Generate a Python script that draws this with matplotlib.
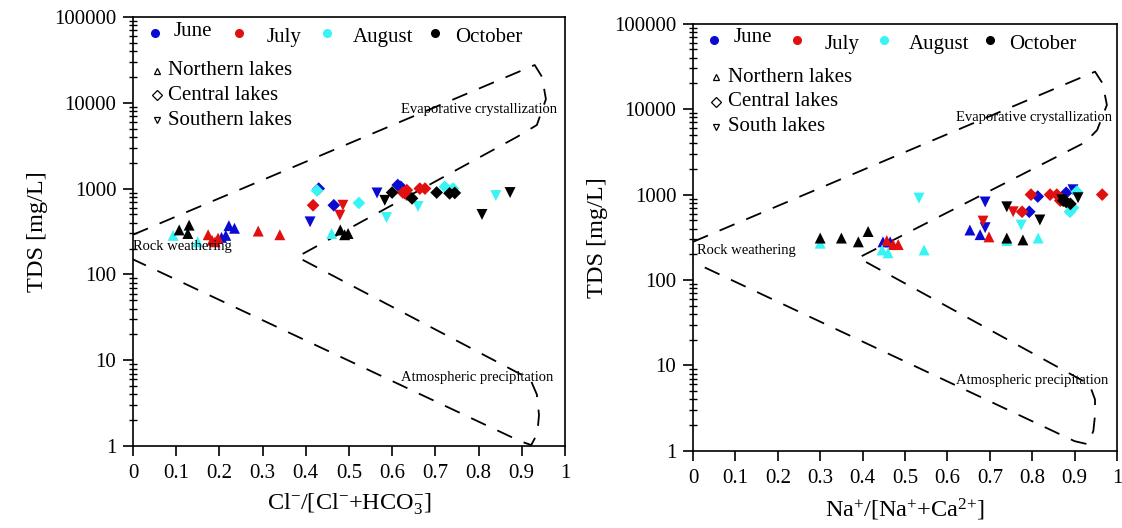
import matplotlib
matplotlib.use("Agg")
import matplotlib.pyplot as plt
from matplotlib.ticker import LogLocator, FixedLocator, NullFormatter
import numpy as np

plt.rcParams['font.family'] = ['Liberation Serif', 'DejaVu Serif']
plt.rcParams['mathtext.fontset'] = 'custom'
plt.rcParams['mathtext.rm'] = 'Liberation Serif'
plt.rcParams['mathtext.it'] = 'Liberation Serif:italic'

months = ["June", "July", "August", "October"]
month_colors = ["#0a0ad2", "#e01010", "#38f4f4", "#000000"]
regions = ["Northern lakes", "Central lakes", "Southern lakes"]
regions_right = ["Northern lakes", "Central lakes", "South lakes"]
region_markers = ["^", "D", "v"]

# ---------- Left panel: Cl-/(Cl- + HCO3-) vs TDS ----------
cl_june_n_x = [0.205, 0.215, 0.222, 0.235]
cl_june_n_y = [270, 285, 370, 345]
cl_june_c_x = [0.43, 0.465, 0.613, 0.62]
cl_june_c_y = [1000, 640, 1100, 1050]
cl_june_s_x = [0.41, 0.565]
cl_june_s_y = [410, 890]

cl_july_n_x = [0.174, 0.183, 0.197, 0.19, 0.29, 0.34]
cl_july_n_y = [290, 250, 265, 240, 320, 290]
cl_july_c_x = [0.417, 0.634, 0.634, 0.664, 0.676, 0.625]
cl_july_c_y = [640, 960, 850, 1000, 1000, 900]
cl_july_s_x = [0.486, 0.479]
cl_july_s_y = [640, 490]

cl_aug_n_x = [0.093, 0.15, 0.46]
cl_aug_n_y = [285, 240, 300]
cl_aug_c_x = [0.426, 0.523, 0.722, 0.741]
cl_aug_c_y = [950, 680, 1050, 1000]
cl_aug_s_x = [0.587, 0.66, 0.84]
cl_aug_s_y = [460, 620, 830]

cl_oct_n_x = [0.107, 0.13, 0.127, 0.48, 0.498, 0.49]
cl_oct_n_y = [330, 375, 300, 330, 300, 290]
cl_oct_c_x = [0.60, 0.646, 0.703, 0.733, 0.745]
cl_oct_c_y = [900, 770, 900, 880, 890]
cl_oct_s_x = [0.583, 0.808, 0.873]
cl_oct_s_y = [730, 500, 900]

# ---------- Right panel: Na+/(Na+ + Ca2+) vs TDS ----------
na_june_n_x = [0.448, 0.465, 0.653, 0.677]
na_june_n_y = [280, 280, 385, 340]
na_june_c_x = [0.793, 0.813, 0.88]
na_june_c_y = [630, 950, 1050]
na_june_s_x = [0.689, 0.689, 0.896]
na_june_s_y = [410, 820, 1140]

na_july_n_x = [0.457, 0.472, 0.484, 0.698]
na_july_n_y = [290, 260, 260, 320]
na_july_c_x = [0.776, 0.797, 0.842, 0.858, 0.866, 0.965]
na_july_c_y = [630, 1000, 1000, 1000, 850, 1000]
na_july_s_x = [0.684, 0.755, 0.86]
na_july_s_y = [490, 630, 900]

na_aug_n_x = [0.30, 0.446, 0.46, 0.545, 0.74, 0.814]
na_aug_n_y = [270, 225, 208, 225, 290, 310]
na_aug_c_x = [0.905, 0.889, 0.896]
na_aug_c_y = [1080, 630, 700]
na_aug_s_x = [0.533, 0.774]
na_aug_s_y = [910, 440]

na_oct_n_x = [0.30, 0.35, 0.39, 0.413, 0.74, 0.778]
na_oct_n_y = [310, 310, 280, 370, 310, 295]
na_oct_c_x = [0.873, 0.88, 0.89]
na_oct_c_y = [850, 820, 780]
na_oct_s_x = [0.74, 0.818, 0.908, 0.87]
na_oct_s_y = [720, 505, 920, 870]

gibbs_left_x = [0.0, 0.93, 0.947, 0.956, 0.935, 0.889, 0.38, 0.92, 0.935, 0.94, 0.936, 0.922, 0.897, 0.0]
gibbs_left_y = [290, 27500, 20000, 11000, 5500, 4000, 160, 6.0, 4.0, 2.3, 1.4, 1.03, 1.14, 150]
gibbs_right_x = [0.0, 0.948, 0.966, 0.976, 0.953, 0.925, 0.39, 0.935, 0.948, 0.948, 0.944, 0.93, 0.90, 0.0]
gibbs_right_y = [280, 27500, 20000, 11200, 5700, 4100, 182, 6.0, 4.0, 2.6, 1.7, 1.2, 1.3, 163]

left_sets = [
    [(cl_june_n_x, cl_june_n_y), (cl_june_c_x, cl_june_c_y), (cl_june_s_x, cl_june_s_y)],
    [(cl_july_n_x, cl_july_n_y), (cl_july_c_x, cl_july_c_y), (cl_july_s_x, cl_july_s_y)],
    [(cl_aug_n_x, cl_aug_n_y), (cl_aug_c_x, cl_aug_c_y), (cl_aug_s_x, cl_aug_s_y)],
    [(cl_oct_n_x, cl_oct_n_y), (cl_oct_c_x, cl_oct_c_y), (cl_oct_s_x, cl_oct_s_y)],
]
right_sets = [
    [(na_june_n_x, na_june_n_y), (na_june_c_x, na_june_c_y), (na_june_s_x, na_june_s_y)],
    [(na_july_n_x, na_july_n_y), (na_july_c_x, na_july_c_y), (na_july_s_x, na_july_s_y)],
    [(na_aug_n_x, na_aug_n_y), (na_aug_c_x, na_aug_c_y), (na_aug_s_x, na_aug_s_y)],
    [(na_oct_n_x, na_oct_n_y), (na_oct_c_x, na_oct_c_y), (na_oct_s_x, na_oct_s_y)],
]

xticks = [0, 0.1, 0.2, 0.3, 0.4, 0.5, 0.6, 0.7, 0.8, 0.9, 1]
xticklabels = ["0", "0.1", "0.2", "0.3", "0.4", "0.5", "0.6", "0.7", "0.8", "0.9", "1"]
yticks = [1, 10, 100, 1000, 10000, 100000]
yticklabels = ["1", "10", "100", "1000", "10000", "100000"]

fig = plt.figure(figsize=(11.22, 5.28), dpi=100)
ax1 = fig.add_axes([0.1185, 0.155, 0.385, 0.813])
ax2 = fig.add_axes([0.6176, 0.146, 0.378, 0.809])


def smooth_path(px, py):
    # linear interpolation in (x, log y) space for a dashed envelope
    xs, ys = [], []
    for i in range(len(px) - 1):
        t = np.linspace(0, 1, 20, endpoint=False)
        xs.extend(px[i] + (px[i + 1] - px[i]) * t)
        ly0, ly1 = np.log10(py[i]), np.log10(py[i + 1])
        ys.extend(10 ** (ly0 + (ly1 - ly0) * t))
    xs.append(px[-1]); ys.append(py[-1])
    return xs, ys


def draw_panel(ax, sets, gx, gy, xlabel, region_names, ann):
    ax.set_yscale('log')
    ax.set_xlim(0, 1)
    ax.set_ylim(1, 100000)
    cx, cy = smooth_path(gx, gy)
    ax.plot(cx, cy, color='black', lw=1.3, dashes=(9, 7))
    for mi, month_sets in enumerate(sets):
        for ri, (xs, ys) in enumerate(month_sets):
            size = 42 if region_markers[ri] == 'D' else 62
            ax.scatter(xs, ys, marker=region_markers[ri], s=size,
                       color=month_colors[mi], edgecolors='none', zorder=3)
    ax.set_xticks(xticks)
    ax.set_xticklabels(xticklabels)
    ax.yaxis.set_major_locator(FixedLocator(yticks))
    ax.set_yticklabels(yticklabels)
    ax.yaxis.set_minor_locator(LogLocator(base=10, subs=np.arange(2, 10)))
    ax.yaxis.set_minor_formatter(NullFormatter())
    ax.tick_params(axis='both', which='major', direction='out', length=7, width=1.2,
                   labelsize=15, pad=5)
    ax.tick_params(axis='x', which='major', pad=6)
    ax.tick_params(axis='y', which='minor', direction='inout', length=6, width=1)
    for sp in ax.spines.values():
        sp.set_linewidth(1.2)
    ax.set_xlabel(xlabel, fontsize=17.5, labelpad=6)
    ax.set_ylabel("TDS [mg/L]", fontsize=17.5, labelpad=4)

    # legend rows
    xs_marker = [0.05, 0.245, 0.45, 0.70]
    xs_text = [0.095, 0.31, 0.51, 0.745]
    for i, m in enumerate(months):
        ax.plot([xs_marker[i]], [0.962], marker='o', ms=5.5, color=month_colors[i],
                transform=ax.transAxes, clip_on=False, ls='none')
        ax.text(xs_text[i], 0.962 - (0.01 if i else -0.005), m, transform=ax.transAxes,
                fontsize=15, va='center', ha='left')
    for i, r in enumerate(region_names):
        yy = 0.875 - i * 0.058
        ax.plot([0.055], [yy], marker=region_markers[i], ms=5, mfc='white',
                mec='black', mew=0.9, transform=ax.transAxes, clip_on=False, ls='none')
        ax.text(0.082, yy, r, transform=ax.transAxes, fontsize=15, va='center', ha='left')

    for (tx, ty, s) in ann:
        ax.text(tx, ty, s, transform=ax.transAxes, fontsize=10.5, va='center', ha='left')


draw_panel(ax1, left_sets, gibbs_left_x, gibbs_left_y,
           r"Cl$^{\mathrm{-}}$/[Cl$^{\mathrm{-}}$+HCO$_{3}^{\mathrm{-}}$]", regions,
           [(0.62, 0.785, "Evaporative crystallization"),
            (0.0, 0.465, "Rock weathering"),
            (0.62, 0.16, "Atmospheric precipitation")])
draw_panel(ax2, right_sets, gibbs_right_x, gibbs_right_y,
           r"Na$^{+}$/[Na$^{+}$+Ca$^{2{+}}$]", regions_right,
           [(0.62, 0.78, "Evaporative crystallization"),
            (0.01, 0.47, "Rock weathering"),
            (0.62, 0.165, "Atmospheric precipitation")])

fig.savefig("out.png", dpi=100)
